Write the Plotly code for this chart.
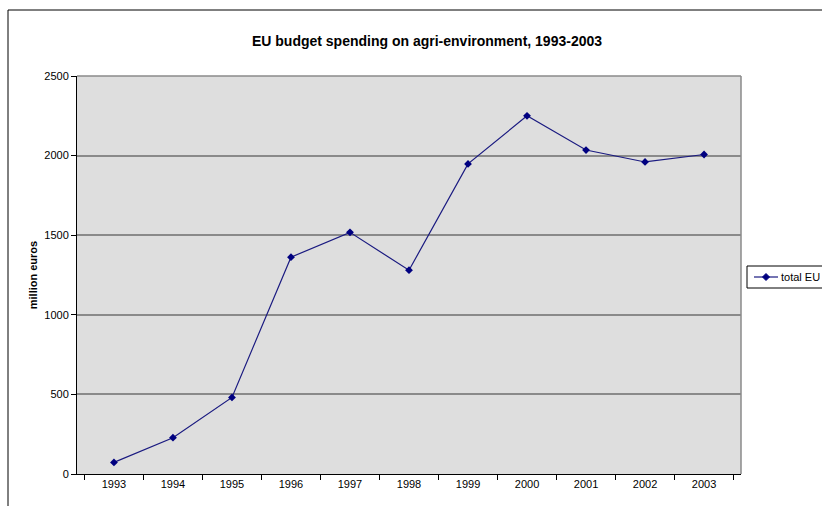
import plotly.graph_objects as go

years = ["1993", "1994", "1995", "1996", "1997", "1998", "1999", "2000", "2001", "2002", "2003"]
total_eu = [73, 228, 481, 1362, 1518, 1280, 1948, 2250, 2035, 1960, 2007]
series_name = "total EU"
title_text = "EU budget spending on agri-environment, 1993-2003"
y_title = "million euros"

L, R, T, B = 77, 81, 76, 32
W, H = 822, 506
pw, ph = W - L - R, H - T - B
LINE_COLOR = "#1a1a80"
MARK_COLOR = "#000080"


def px(x):
    return (x - L) / pw


def py(y):
    return (T + ph - y) / ph


fig = go.Figure()
fig.add_trace(go.Scatter(
    x=years, y=total_eu, name=series_name, mode="lines+markers",
    line=dict(color=LINE_COLOR, width=1.2),
    marker=dict(symbol="diamond", size=6, color=MARK_COLOR),
    showlegend=False,
))

font = "Liberation Sans, Arial, sans-serif"

# legend drawn by hand (box, sample line, diamond, label)
lx0, ly0, ly1 = 747, 266, 288
lyc = (ly0 + ly1) / 2
dcx, dr = 766, 3.5
diamond = "M {} {} L {} {} L {} {} L {} {} Z".format(
    px(dcx - dr), py(lyc), px(dcx), py(lyc - dr), px(dcx + dr), py(lyc), px(dcx), py(lyc + dr))

shapes = [
    # plot area top and right border
    dict(type="line", xref="paper", yref="paper", x0=0, x1=1, y0=1, y1=1,
         line=dict(color="#8a8a8a", width=1.5)),
    dict(type="line", xref="paper", yref="paper", x0=1, x1=1, y0=0, y1=1,
         line=dict(color="#8a8a8a", width=1.5)),
    # outer chart frame
    dict(type="line", xref="paper", yref="paper", x0=px(8), x1=px(W + 5),
         y0=py(10), y1=py(10), line=dict(color="black", width=1)),
    dict(type="line", xref="paper", yref="paper", x0=px(8), x1=px(8),
         y0=py(10), y1=py(H + 5), line=dict(color="black", width=1)),
    # legend
    dict(type="rect", xref="paper", yref="paper", x0=px(lx0), x1=px(W + 10),
         y0=py(ly1), y1=py(ly0), line=dict(color="black", width=1), fillcolor="white"),
    dict(type="line", xref="paper", yref="paper", x0=px(754), x1=px(778),
         y0=py(lyc), y1=py(lyc), line=dict(color=LINE_COLOR, width=1.2)),
    dict(type="path", xref="paper", yref="paper", path=diamond,
         line=dict(color=MARK_COLOR, width=1), fillcolor=MARK_COLOR),
]

fig.update_layout(
    width=W, height=H,
    margin=dict(l=L, r=R, t=T, b=B, autoexpand=False),
    paper_bgcolor="white",
    plot_bgcolor="#DEDEDE",
    font=dict(family=font, size=11, color="black"),
    showlegend=False,
    title=dict(text="<b>" + title_text + "</b>", x=px(427), xref="paper",
               xanchor="center", y=1 - 41 / H, yanchor="middle",
               font=dict(size=14, family=font)),
    xaxis=dict(type="category", tickson="boundaries", ticks="outside", ticklen=5,
               tickcolor="black", showline=True, linecolor="black", linewidth=1,
               showgrid=False, tickfont=dict(size=11)),
    yaxis=dict(range=[0, 2500], dtick=500, ticks="outside", ticklen=5, tickcolor="black",
               showline=True, linecolor="black", linewidth=1, tickfont=dict(size=11),
               showgrid=True, gridcolor="#8a8a8a", gridwidth=1.5, zeroline=False,
               title=dict(text="<b>" + y_title + "</b>", standoff=4, font=dict(size=11))),
    shapes=shapes,
    annotations=[
        dict(text=series_name, xref="paper", yref="paper", x=px(779), y=py(lyc),
             xanchor="left", yanchor="middle", showarrow=False, font=dict(size=11)),
    ],
)

fig.write_html("out.html", config={"displayModeBar": False},
               post_script="document.body.style.margin='0px';document.body.style.overflow='hidden';")
